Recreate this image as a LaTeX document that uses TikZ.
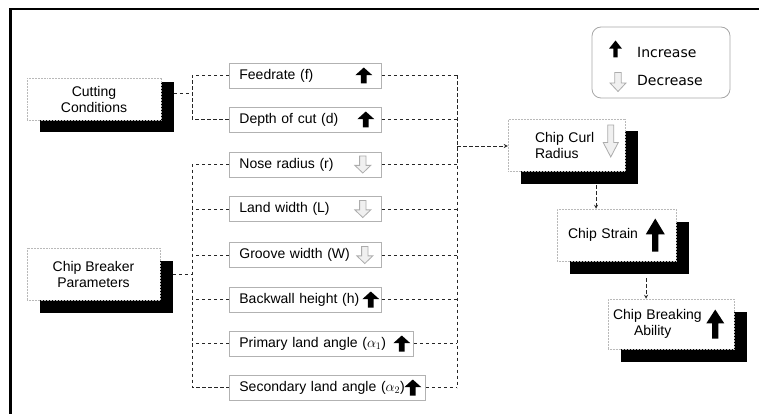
\documentclass[tikz,border=0pt]{standalone}
\usepackage{fontspec}
\setmainfont{Liberation Sans}
\newfontfamily\legendfont{DejaVu Sans}
\usepackage{tikz}
\usetikzlibrary{shadows,arrows,positioning}
\tikzstyle{mainbox} = [rectangle, draw=gray!55, densely dotted, line width=0.5pt, fill=white, minimum height=52pt, align=center, inner sep=0pt]
\tikzset{boxshadow/.style={drop shadow={shadow xshift=12.5pt, shadow yshift=-12.5pt, fill=black, opacity=1, #1}}, boxshadow/.default=}
\tikzstyle{param} = [rectangle, draw=gray!60, line width=0.8pt, fill=white, anchor=west, minimum height=25pt, inner xsep=10pt, align=left]
\tikzstyle{link} = [draw=black!85, line width=0.8pt, dash pattern=on 3.5pt off 2.5pt]
\tikzstyle{legtext} = [anchor=west, inner sep=0pt, font=\legendfont\fontsize{14}{16}\selectfont]
\tikzset{
  pics/uparrow/.style={code={
    \fill[black] (0,-0.5) -- (0.5,-0.02) -- (0.17,-0.02) -- (0.17,0.5) -- (-0.17,0.5) -- (-0.17,-0.02) -- (-0.5,-0.02) -- cycle;}},
  pics/downarrow/.style={code={
    \draw[gray!65, fill=gray!12, line width=0.8pt] (0,0.5) -- (0.5,0.05) -- (0.2,0.05) -- (0.2,-0.5) -- (-0.2,-0.5) -- (-0.2,0.05) -- (-0.5,0.05) -- cycle;}}
}

\begin{document}
\begin{tikzpicture}[x=1pt, y=-1pt, >=stealth, font=\fontsize{14}{16}\selectfont]
	\useasboundingbox (0,0) rectangle (759,414);
	\draw[line width=2.5pt] (10.5,414) -- (10.5,9) -- (759,9);

	% groups
	\node[mainbox, boxshadow, boxshadow={shadow yshift=-4pt}, minimum width=134pt, minimum height=42pt] (cut) at (94,99) {Cutting\\Conditions};
	\node[mainbox, boxshadow, minimum width=133pt] (brk) at (93.5,274) {Chip Breaker\\Parameters};

	% parameters
	\node[param, text width=132pt] (feed) at (229,75.5) {Feedrate (f)};
	\node[param, text width=132pt] (depth) at (229,119.5) {Depth of cut (d)};
	\node[param, text width=132pt] (nose) at (229,164.5) {Nose radius (r)};
	\node[param, text width=132pt] (land) at (229,209) {Land width (L)};
	\node[param, text width=132pt] (groove) at (229,255) {Groove width (W)};
	\node[param, text width=132pt] (back) at (229,299.5) {Backwall height (h)};
	\node[param, text width=164pt] (prim) at (229,343.5) {Primary land angle ($\alpha_1$)};
	\node[param, text width=176pt] (sec) at (229,387.5) {Secondary land angle ($\alpha_2$)};
	\pic[xscale=17, yscale=16] at ([xshift=-18pt]feed.east) {uparrow};
	\pic[xscale=17, yscale=16] at ([xshift=-16pt]depth.east) {uparrow};
	\pic[xscale=16, yscale=17] at ([xshift=-19pt]nose.east) {downarrow};
	\pic[xscale=16, yscale=17] at ([xshift=-19pt]land.east) {downarrow};
	\pic[xscale=16, yscale=17] at ([xshift=-17pt]groove.east) {downarrow};
	\pic[xscale=17, yscale=16] at ([xshift=-11pt]back.east) {uparrow};
	\pic[xscale=17, yscale=16] at ([xshift=-12pt]prim.east) {uparrow};
	\pic[xscale=17, yscale=16] at ([xshift=-13pt]sec.east) {uparrow};

	% results
	\node[mainbox, boxshadow, text width=63pt, inner xsep=27pt, align=left] (curl) at (566.5,145) {Chip Curl\\Radius};
	\node[mainbox, boxshadow, text width=97pt, inner xsep=11pt, align=left] (strain) at (616.5,235) {Chip Strain};
	\node[mainbox, boxshadow, minimum height=50pt, text width=116pt, inner xsep=5pt, align=left] (ability) at (671,324) {Chip Breaking\\\hspace*{21pt}Ability};
	\pic[xscale=15, yscale=32] at ([xshift=-14.5pt,yshift=4pt]curl.east) {downarrow};
	\pic[xscale=19, yscale=33] at ([xshift=-21pt]strain.east) {uparrow};
	\pic[xscale=18, yscale=29] at ([xshift=-19pt]ability.east) {uparrow};

	% legend
	\node[draw=gray!70, line width=0.8pt, rounded corners=9pt, minimum width=138pt, minimum height=71pt] (legend) at (661,62.5) {};
	\node[legtext] (inc) at (637,52) {Increase};
	\node[legtext] (dec) at (637,80) {Decrease};
	\pic[xscale=13, yscale=17] at (615.5,49) {uparrow};
	\pic[xscale=16, yscale=19] at (618,82) {downarrow};

	% links
	\coordinate (lb) at (192,0);
	\coordinate (rb) at (457,146);
	\draw[link] ([xshift=12.5pt,yshift=6pt]cut.east) -- ([yshift=6pt]cut.east -| lb);
	\draw[link] (feed.west) -- (feed.west -| lb) -- (depth.west -| lb) -- (depth.west);
	\draw[link] ([xshift=12.5pt]brk.east) -- (brk.east -| lb);
	\draw[link] (nose.west) -- (nose.west -| lb) -- (sec.west -| lb) -- (sec.west);
	\foreach \n in {land,groove,back,prim}
		\draw[link] (\n.west) -- (\n.west -| lb);
	\foreach \n in {feed,depth,nose,land,groove,back,prim,sec}
		\draw[link] (\n.east) -- (\n.east -| rb);
	\draw[link] (feed.east -| rb) -- (sec.east -| rb);
	\draw[link,->] (rb) -- (rb -| curl.west);
	\draw[link,->] ([xshift=-20.5pt,yshift=-14pt]strain.north |- curl.south) -- ([xshift=-20.5pt]strain.north);
	\draw[link,->] ([xshift=-25pt,yshift=-17pt]ability.north |- strain.south) -- ([xshift=-25pt]ability.north);
\end{tikzpicture}
\end{document}
